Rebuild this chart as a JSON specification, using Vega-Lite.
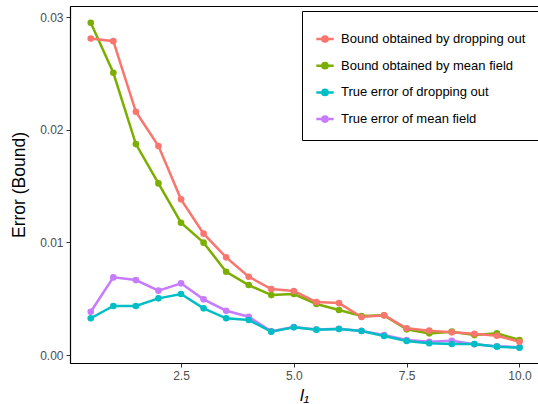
{
  "$schema": "https://vega.github.io/schema/vega-lite/v6.json",
  "autosize": {"type": "none"},
  "padding": {"left": 70, "top": 6, "right": 0, "bottom": 41},
  "width": 468,
  "height": 357,
  "background": "white",
  "config": {
    "font": "Liberation Sans",
    "view": {"stroke": "black", "strokeWidth": 1}
  },
  "data": {
    "values": [
      {"l": 0.5, "v": 0.00384, "s": "True error of mean field"},
      {"l": 1.0, "v": 0.00689, "s": "True error of mean field"},
      {"l": 1.5, "v": 0.00665, "s": "True error of mean field"},
      {"l": 2.0, "v": 0.00571, "s": "True error of mean field"},
      {"l": 2.5, "v": 0.00636, "s": "True error of mean field"},
      {"l": 3.0, "v": 0.00494, "s": "True error of mean field"},
      {"l": 3.5, "v": 0.00393, "s": "True error of mean field"},
      {"l": 4.0, "v": 0.00340, "s": "True error of mean field"},
      {"l": 4.5, "v": 0.00210, "s": "True error of mean field"},
      {"l": 5.0, "v": 0.00248, "s": "True error of mean field"},
      {"l": 5.5, "v": 0.00226, "s": "True error of mean field"},
      {"l": 6.0, "v": 0.00232, "s": "True error of mean field"},
      {"l": 6.5, "v": 0.00214, "s": "True error of mean field"},
      {"l": 7.0, "v": 0.00177, "s": "True error of mean field"},
      {"l": 7.5, "v": 0.00133, "s": "True error of mean field"},
      {"l": 8.0, "v": 0.00118, "s": "True error of mean field"},
      {"l": 8.5, "v": 0.00127, "s": "True error of mean field"},
      {"l": 9.0, "v": 0.00095, "s": "True error of mean field"},
      {"l": 9.5, "v": 0.00078, "s": "True error of mean field"},
      {"l": 10.0, "v": 0.00068, "s": "True error of mean field"},
      {"l": 0.5, "v": 0.00326, "s": "True error of dropping out"},
      {"l": 1.0, "v": 0.00435, "s": "True error of dropping out"},
      {"l": 1.5, "v": 0.00435, "s": "True error of dropping out"},
      {"l": 2.0, "v": 0.00503, "s": "True error of dropping out"},
      {"l": 2.5, "v": 0.00541, "s": "True error of dropping out"},
      {"l": 3.0, "v": 0.00414, "s": "True error of dropping out"},
      {"l": 3.5, "v": 0.00326, "s": "True error of dropping out"},
      {"l": 4.0, "v": 0.00311, "s": "True error of dropping out"},
      {"l": 4.5, "v": 0.00207, "s": "True error of dropping out"},
      {"l": 5.0, "v": 0.00246, "s": "True error of dropping out"},
      {"l": 5.5, "v": 0.00225, "s": "True error of dropping out"},
      {"l": 6.0, "v": 0.00231, "s": "True error of dropping out"},
      {"l": 6.5, "v": 0.00213, "s": "True error of dropping out"},
      {"l": 7.0, "v": 0.00169, "s": "True error of dropping out"},
      {"l": 7.5, "v": 0.00124, "s": "True error of dropping out"},
      {"l": 8.0, "v": 0.00104, "s": "True error of dropping out"},
      {"l": 8.5, "v": 0.00098, "s": "True error of dropping out"},
      {"l": 9.0, "v": 0.00098, "s": "True error of dropping out"},
      {"l": 9.5, "v": 0.00074, "s": "True error of dropping out"},
      {"l": 10.0, "v": 0.00065, "s": "True error of dropping out"},
      {"l": 0.5, "v": 0.02949, "s": "Bound obtained by mean field"},
      {"l": 1.0, "v": 0.02505, "s": "Bound obtained by mean field"},
      {"l": 1.5, "v": 0.01872, "s": "Bound obtained by mean field"},
      {"l": 2.0, "v": 0.01523, "s": "Bound obtained by mean field"},
      {"l": 2.5, "v": 0.01174, "s": "Bound obtained by mean field"},
      {"l": 3.0, "v": 0.00997, "s": "Bound obtained by mean field"},
      {"l": 3.5, "v": 0.00739, "s": "Bound obtained by mean field"},
      {"l": 4.0, "v": 0.00621, "s": "Bound obtained by mean field"},
      {"l": 4.5, "v": 0.00532, "s": "Bound obtained by mean field"},
      {"l": 5.0, "v": 0.00541, "s": "Bound obtained by mean field"},
      {"l": 5.5, "v": 0.00453, "s": "Bound obtained by mean field"},
      {"l": 6.0, "v": 0.00399, "s": "Bound obtained by mean field"},
      {"l": 6.5, "v": 0.00346, "s": "Bound obtained by mean field"},
      {"l": 7.0, "v": 0.00352, "s": "Bound obtained by mean field"},
      {"l": 7.5, "v": 0.00228, "s": "Bound obtained by mean field"},
      {"l": 8.0, "v": 0.00192, "s": "Bound obtained by mean field"},
      {"l": 8.5, "v": 0.00207, "s": "Bound obtained by mean field"},
      {"l": 9.0, "v": 0.00177, "s": "Bound obtained by mean field"},
      {"l": 9.5, "v": 0.00192, "s": "Bound obtained by mean field"},
      {"l": 10.0, "v": 0.00133, "s": "Bound obtained by mean field"},
      {"l": 0.5, "v": 0.02810, "s": "Bound obtained by dropping out"},
      {"l": 1.0, "v": 0.02786, "s": "Bound obtained by dropping out"},
      {"l": 1.5, "v": 0.02159, "s": "Bound obtained by dropping out"},
      {"l": 2.0, "v": 0.01855, "s": "Bound obtained by dropping out"},
      {"l": 2.5, "v": 0.01382, "s": "Bound obtained by dropping out"},
      {"l": 3.0, "v": 0.01077, "s": "Bound obtained by dropping out"},
      {"l": 3.5, "v": 0.00867, "s": "Bound obtained by dropping out"},
      {"l": 4.0, "v": 0.00695, "s": "Bound obtained by dropping out"},
      {"l": 4.5, "v": 0.00586, "s": "Bound obtained by dropping out"},
      {"l": 5.0, "v": 0.00568, "s": "Bound obtained by dropping out"},
      {"l": 5.5, "v": 0.00470, "s": "Bound obtained by dropping out"},
      {"l": 6.0, "v": 0.00461, "s": "Bound obtained by dropping out"},
      {"l": 6.5, "v": 0.00337, "s": "Bound obtained by dropping out"},
      {"l": 7.0, "v": 0.00352, "s": "Bound obtained by dropping out"},
      {"l": 7.5, "v": 0.00237, "s": "Bound obtained by dropping out"},
      {"l": 8.0, "v": 0.00216, "s": "Bound obtained by dropping out"},
      {"l": 8.5, "v": 0.00201, "s": "Bound obtained by dropping out"},
      {"l": 9.0, "v": 0.00189, "s": "Bound obtained by dropping out"},
      {"l": 9.5, "v": 0.00171, "s": "Bound obtained by dropping out"},
      {"l": 10.0, "v": 0.00118, "s": "Bound obtained by dropping out"}
    ]
  },
  "encoding": {
    "x": {
      "field": "l", "type": "quantitative",
      "scale": {"domain": [0.04, 10.41], "nice": false, "zero": false},
      "axis": {
        "title": "l₁", "titleFontStyle": "italic", "titleFontWeight": "normal", "titleFontSize": 17, "titleColor": "black",
        "titlePadding": 6,
        "values": [2.5, 5, 7.5, 10], "format": ".1f", "grid": false,
        "labelFontSize": 12, "labelColor": "#4d4d4d", "labelPadding": 3,
        "domainColor": "black", "domainWidth": 1.2, "tickColor": "#333333", "tickSize": 4
      }
    },
    "y": {
      "field": "v", "type": "quantitative",
      "scale": {"domain": [-0.00071, 0.03098], "nice": false, "zero": false},
      "axis": {
        "title": "Error (Bound)", "titleFontWeight": "normal", "titleFontSize": 17.5, "titleColor": "black",
        "titlePadding": 11,
        "values": [0, 0.01, 0.02, 0.03], "format": ".2f", "grid": false,
        "labelFontSize": 12, "labelColor": "#4d4d4d", "labelPadding": 3,
        "domainColor": "black", "domainWidth": 1.2, "tickColor": "#333333", "tickSize": 4
      }
    },
    "color": {
      "field": "s", "type": "nominal",
      "scale": {
        "domain": ["Bound obtained by dropping out", "Bound obtained by mean field", "True error of dropping out", "True error of mean field"],
        "range": ["#F8766D", "#7CAE00", "#00BFC4", "#C77CFF"]
      },
      "legend": {
        "orient": "none", "legendX": 232, "legendY": 5,
        "title": " ", "titleFontSize": 5, "titlePadding": 0,
        "padding": 13, "strokeColor": "black",
        "labelFontSize": 13, "labelColor": "black", "labelOffset": 6, "labelLimit": 400,
        "rowPadding": 8.7,
        "symbolType": "M-1,0H1M-0.3,0a0.3,0.3 0 1,0 0.6,0a0.3,0.3 0 1,0 -0.6,0",
        "symbolSize": 300, "symbolStrokeWidth": 2.5
      }
    }
  },
  "layer": [
    {"mark": {"type": "line", "strokeWidth": 2.5}},
    {"mark": {"type": "point", "filled": true, "opacity": 1, "size": 44}}
  ]
}
